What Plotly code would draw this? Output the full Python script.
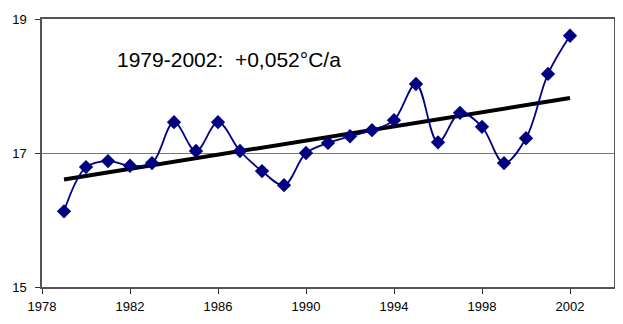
import numpy as np
import plotly.graph_objects as go

years = list(range(1979, 2003))
temps = [16.13, 16.79, 16.88, 16.81, 16.85, 17.46, 17.03, 17.46, 17.03, 16.73,
         16.52, 17.00, 17.15, 17.25, 17.34, 17.49, 18.03, 17.16, 17.60, 17.39,
         16.85, 17.22, 18.18, 18.75]
x_ticks = [1978, 1982, 1986, 1990, 1994, 1998, 2002]
y_ticks = [15, 17, 19]
annotation_text = "1979-2002:  +0,052°C/a"

slope, intercept = np.polyfit(years, temps, 1)
trend_x = [years[0], years[-1]]
trend_y = [slope * x + intercept for x in trend_x]

fig = go.Figure()
fig.add_trace(go.Scatter(x=trend_x, y=trend_y, mode="lines",
                         line=dict(color="black", width=4), hoverinfo="skip"))
fig.add_trace(go.Scatter(x=years, y=temps, mode="lines+markers",
                         line=dict(color="#000080", width=1.8, shape="spline", smoothing=1.0),
                         marker=dict(symbol="diamond", size=11, color="#000080")))

fig.update_layout(
    width=615, height=316,
    margin=dict(l=34, r=9, t=11, b=37, autoexpand=False),
    paper_bgcolor="white", plot_bgcolor="white",
    showlegend=False,
    font=dict(family="Liberation Sans, Arial, sans-serif", size=13, color="black"),
    xaxis=dict(range=[1978, 2004], tickvals=x_ticks, ticks="outside", ticklen=5,
               tickcolor="#333", showgrid=False, zeroline=False, automargin=False,
               showline=True, linecolor="#555", linewidth=1.5, mirror=True,
               ticklabelstandoff=2, tickfont=dict(size=13)),
    yaxis=dict(range=[15, 19], tickvals=y_ticks, ticks="outside", ticklen=5,
               tickcolor="#333", showgrid=True, gridcolor="#777", gridwidth=1,
               zeroline=False, showline=True, linecolor="#555", linewidth=1.5,
               mirror=True, automargin=False, ticklabelstandoff=6,
               tickfont=dict(size=13)),
    annotations=[dict(x=1981.3, y=18.39, xref="x", yref="y", text=annotation_text,
                      showarrow=False, xanchor="left", yanchor="middle",
                      font=dict(size=21, color="black"))],
)

fig.write_html("out.html")
